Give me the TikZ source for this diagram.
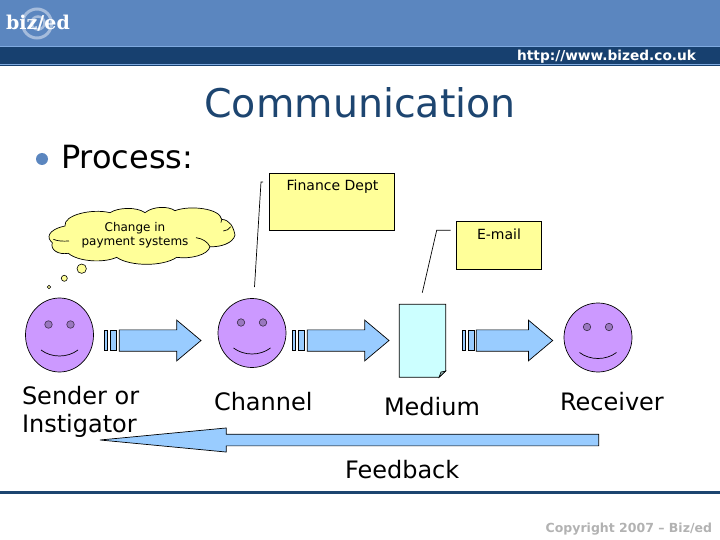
\documentclass[tikz,border=0pt]{standalone}
\usepackage{fontspec}
\setmainfont{DejaVu Sans}
\newfontfamily\logofont{DejaVu Serif}
\usetikzlibrary{shapes.geometric,shapes.arrows}
\definecolor{headblue}{HTML}{5B86BF}
\definecolor{bandblue}{HTML}{17406F}
\definecolor{lineblue}{HTML}{7FAAE0}
\definecolor{titleblue}{HTML}{1D4570}
\definecolor{noteyellow}{HTML}{FFFF99}
\definecolor{cloudyellow}{HTML}{FFFF99}
\definecolor{facepurple}{HTML}{CC99FF}
\definecolor{eyepurple}{HTML}{9A78BF}
\definecolor{arrowblue}{HTML}{99CCFF}
\definecolor{docblue}{HTML}{CCFFFF}
\tikzset{
  every node/.style={inner sep=0pt, outer sep=0pt},
  facenode/.style={draw=black, fill=facepurple, ellipse, line width=.7pt, minimum width=68pt},
  eyenode/.style={draw=black!70!facepurple, fill=eyepurple, circle, line width=.6pt, minimum size=7.5pt},
  notebox/.style={draw=black, fill=noteyellow, line width=.8pt, anchor=north west},
  notetext/.style={font=\fontsize{14}{16}\selectfont},
  labeltext/.style={font=\fontsize{24}{28}\selectfont, align=left},
  stripenode/.style={draw=black, fill=arrowblue, line width=.7pt, minimum height=20.6pt},
  blockarrow/.style={draw=black, fill=arrowblue, line width=.7pt, single arrow, anchor=tip,
    inner ysep=10.3pt, minimum width=40pt, single arrow tip angle=80, single arrow head extend=9.7pt},
  bubblenode/.style={draw=black, fill=cloudyellow, circle, line width=.6pt},
  calloutline/.style={draw=black, line width=.7pt},
  logoring/.style={draw=white!45!headblue, circle}
}
\begin{document}
\begin{tikzpicture}[x=1pt, y=-1pt]
  \useasboundingbox (0,0) rectangle (720,540);
  % header
  \fill[headblue] (0,0) rectangle (720,46);
  \fill[lineblue] (0,46) rectangle (720,47);
  \fill[bandblue] (0,47) rectangle (720,64);
  \fill[lineblue] (0,64) rectangle (720,65);
  \fill[bandblue] (0,65) rectangle (720,66);
  \node[logoring, line width=3pt, minimum size=29pt] (ringouter) at (37,23.5) {};
  \node[logoring, line width=2.5pt, minimum size=13pt] (ringinner) at (38,23) {};
  \node[text=white, font=\logofont\bfseries\fontsize{19}{20}\selectfont] (logo) at (38,23) {biz/ed};
  \node[text=white, font=\bfseries\fontsize{13.7}{15}\selectfont, anchor=east] (url) at (696,56.5) {http://www.bized.co.uk};
  % title
  \node[text=titleblue, font=\fontsize{39.5}{44}\selectfont] (title) at (360,103) {Communication};
  \node[fill=headblue, circle, minimum size=12pt] (bullet) at (42,159) {};
  \node[anchor=west, font=\fontsize{32}{36}\selectfont] (process) at (61,157) {Process:};
  % cloud
  \begin{scope}[shift={(20,170)}, x=.3333pt, y=-.3333pt]
    \draw[fill=cloudyellow, line width=.7pt] (135,168)
      .. controls (130,135) and (215,115) .. (270,128)
      .. controls (295,112) and (350,110) .. (375,128)
      .. controls (400,108) and (445,108) .. (465,122)
      .. controls (510,105) and (600,115) .. (605,148)
      .. controls (630,150) and (640,170) .. (645,195)
      .. controls (640,220) and (600,232) .. (570,230)
      .. controls (565,255) and (510,268) .. (470,262)
      .. controls (430,290) and (330,290) .. (290,262)
      .. controls (250,280) and (175,275) .. (145,250)
      .. controls (115,255) and (90,240) .. (97,218)
      .. controls (80,205) and (80,180) .. (135,168) -- cycle;
    \draw[line width=.7pt] (100,208) .. controls (115,214) and (130,214) .. (147,213);
    \draw[line width=.7pt] (528,203) .. controls (548,206) and (562,215) .. (570,230);
    \draw[line width=.7pt] (610,183) .. controls (620,182) and (628,178) .. (632,170);
    \draw[line width=.7pt] (605,148) .. controls (606,152) and (605,155) .. (603,158);
  \end{scope}
  \node[align=center, font=\fontsize{12}{14}\selectfont] (cloudtext) at (135,235.5) {Change in\\payment systems};
  \node[bubblenode, minimum size=9.4pt] (bubblea) at (81.7,268.7) {};
  \node[bubblenode, minimum size=6pt] (bubbleb) at (64.3,278.3) {};
  \node[bubblenode, minimum size=3.4pt] (bubblec) at (49,287) {};
  % notes
  \node[notebox, minimum width=125pt, minimum height=57pt] (finance) at (269.3,173.3) {};
  \node[notetext] (financetext) at (332.5,186.5) {Finance Dept};
  \node[notebox, minimum width=85.4pt, minimum height=48pt] (email) at (456.3,221.3) {};
  \node[notetext] (emailtext) at (499,234) {E-mail};
  \coordinate (financea) at (263,182);
  \coordinate (financeb) at (261,182);
  \coordinate (financec) at (254.5,287);
  \coordinate (emaila) at (450.7,230.3);
  \coordinate (emailb) at (436.7,230.3);
  \coordinate (emailc) at (422.3,292.7);
  \draw[calloutline] (financea) -- (financeb) -- (financec);
  \draw[calloutline] (emaila) -- (emailb) -- (emailc);
  % faces
  \foreach \name/\fx/\fy/\fh in {sender/59.5/335/74, channel/252/333/69, receiver/598/337.5/69}{
    \node[facenode, minimum height=\fh pt] (\name) at (\fx,\fy) {};
    \node[eyenode] (\name lefteye) at (\fx-11,\fy-10.5) {};
    \node[eyenode] (\name righteye) at (\fx+11,\fy-10.5) {};
    \draw[line width=.7pt] (\fx-18.5,\fy+15) .. controls (\fx-8,\fy+23) and (\fx+8,\fy+23) .. (\fx+18.5,\fy+15);
  }
  % block arrows with striped tails
  \foreach \name/\tx/\ax/\al in {one/104.3/201/81.7, two/292.3/389/81.7, three/462.3/552.7/76.4}{
    \node[stripenode, minimum width=3.4pt, anchor=west] (\name stripea) at (\tx,340.5) {};
    \node[stripenode, minimum width=6.6pt, anchor=west] (\name stripeb) at (\tx+5.9,340.5) {};
    \node[blockarrow, minimum height=\al pt] (\name arrow) at (\ax,340.5) {};
  }
  % document
  \draw[fill=docblue, line width=.8pt] (399.3,304.3) -- (445.7,304.3) -- (445.7,371) -- (439,377.3) -- (399.3,377.3) -- cycle;
  \draw[fill=docblue!70!black, line width=.6pt] (445.7,371) -- (441,372) -- (439,377.3) -- cycle;
  % labels
  \node[labeltext, anchor=west] (senderlabel) at (22,411.5) {Sender or\\Instigator};
  \node[labeltext, anchor=west] (channellabel) at (214,402) {Channel};
  \node[labeltext, anchor=west] (mediumlabel) at (384,407) {Medium};
  \node[labeltext, anchor=west] (receiverlabel) at (560,402) {Receiver};
  % feedback
  \node[blockarrow, shape border rotate=180, inner ysep=5.5pt, minimum width=23.4pt, minimum height=498.7pt,
    single arrow tip angle=10.9, single arrow head extend=6.2pt] (feedback) at (100,440) {};
  \node[labeltext, anchor=west] (feedbacklabel) at (345,470) {Feedback};
  % footer
  \fill[titleblue] (0,490.5) rectangle (720,493.5);
  \node[text=black!30, font=\bfseries\fontsize{12.5}{15}\selectfont, anchor=east] (copyright) at (712,529) {Copyright 2007 – Biz/ed};
\end{tikzpicture}
\end{document}
